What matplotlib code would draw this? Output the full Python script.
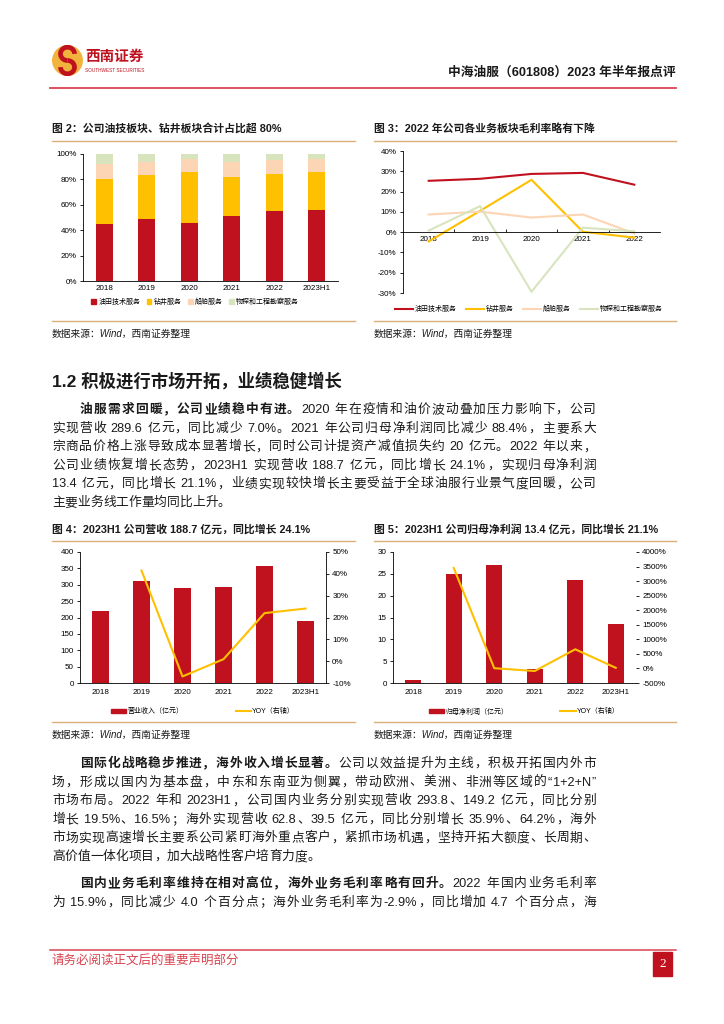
import re

import matplotlib
matplotlib.use('Agg')
import matplotlib.pyplot as plt
import numpy as np
from matplotlib.lines import Line2D
from matplotlib.patches import Arc, Circle, Patch, Rectangle
from matplotlib.ticker import FuncFormatter

# ---- data ----
years = ['2018', '2019', '2020', '2021', '2022', '2023H1']
seg_labels = ['油田技术服务', '钻井服务', '船舶服务', '物探和工程勘察服务']
seg_oilfield = [45.0, 48.5, 46.0, 51.0, 55.0, 56.0]
seg_drilling = [35.5, 35.0, 40.0, 31.0, 29.5, 29.5]
seg_vessel = [12.0, 10.0, 10.0, 11.5, 10.5, 10.5]
seg_geo = [7.5, 6.5, 4.0, 6.5, 5.0, 4.0]

gm_years = ['2018', '2019', '2020', '2021', '2022']
gm_oilfield = [25.3, 26.3, 28.7, 29.2, 23.4]
gm_drilling = [-4.6, 10.5, 25.8, 0.2, -2.7]
gm_vessel = [8.7, 10.1, 7.2, 8.7, -0.6]
gm_geo = [0.8, 12.8, -29.4, 2.2, 0.4]

revenue = [219.7, 310.8, 289.6, 292.2, 356.6, 188.7]
revenue_yoy = [np.nan, 41.5, -7.0, 0.9, 22.0, 24.1]
profit = [0.7, 25.0, 27.1, 3.1, 23.5, 13.4]
profit_yoy = [np.nan, 3450.0, 8.1, -88.4, 658.0, 21.1]

W, H = 724, 1024
RED = '#C0111F'
YEL = '#FFC000'
PEACH = '#FCD5B4'
GREEN = '#D7E4BD'
TAN = '#D9B07A'
TXT = '#1a1a1a'

plt.rcParams['font.family'] = ['Liberation Sans', 'Noto Sans CJK SC']
plt.rcParams['axes.unicode_minus'] = False

fig = plt.figure(figsize=(W / 100, H / 100), dpi=100)
renderer = fig.canvas.get_renderer()


def fx(x):
    return x / W


def fy(y):
    return 1 - y / H


def put(x, y, s, size, **kw):
    kw.setdefault('color', TXT)
    kw.setdefault('va', 'center')
    return fig.text(fx(x), fy(y), s, fontsize=size, **kw)


def hline(x0, x1, y, color, lw):
    fig.add_artist(Line2D([fx(x0), fx(x1)], [fy(y), fy(y)], color=color, lw=lw,
                          transform=fig.transFigure))


def add_ax(l, t, r, b):
    return fig.add_axes([fx(l), fy(b), (r - l) / W, (b - t) / H])


def para_line(y, parts, x0=52, x1=596, size=9.2, justify=True):
    # lay a body line out token by token so it can be justified like the report
    toks = []
    for s, bold in parts:
        for m in re.finditer(r'[A-Za-z0-9.%+\-]+| |.', s):
            toks.append((m.group(), bold))
    arts, widths = [], []
    for s, bold in toks:
        if s == ' ':
            arts.append(None)
            widths.append(size * 100 / 72 * 0.25)
            continue
        t = fig.text(0, fy(y), s, fontsize=size, va='center', ha='left', color=TXT,
                     fontweight='bold' if bold else 'light')
        arts.append(t)
        widths.append(t.get_window_extent(renderer).width)
    gap = (x1 - x0 - sum(widths)) / (len(toks) - 1) if justify else 0
    x = x0
    for t, w in zip(arts, widths):
        if t is not None:
            t.set_x(fx(x))
        x += w + gap


def pct(v, pos):
    return '%d%%' % v


def style_ax(ax, size=5.8):
    for s in ['top', 'right']:
        ax.spines[s].set_visible(False)
    for s in ['left', 'bottom']:
        ax.spines[s].set_linewidth(0.6)
    ax.tick_params(labelsize=size, width=0.6, length=2.5, pad=2)


# ---- page header ----
logo = fig.add_axes([fx(52), fy(76), 31 / W, 31 / H])
logo.set_xlim(-1.05, 1.05)
logo.set_ylim(-1.05, 1.05)
logo.set_aspect('equal')
logo.axis('off')
logo.add_patch(Circle((0, 0), 1, color='#F2B33D'))
logo.add_patch(Arc((0, 0.45), 0.95, 0.9, theta1=0, theta2=270, color=RED, lw=3.4))
logo.add_patch(Arc((0, -0.45), 0.95, 0.9, theta1=180, theta2=450, color=RED, lw=3.4))
put(85, 57, '西南证券', 10.5, color=RED, fontweight='bold')
put(85, 71, 'SOUTHWEST SECURITIES', 3.4, color=RED)
put(676, 73, '中海油服（601808）2023 年半年报点评', 9.2, ha='right', fontweight='bold')
hline(50, 676, 88, '#D9434F', 1.3)

# ---- figure 2 / 3 frames ----
put(52, 129, '图 2：公司油技板块、钻井板块合计占比超 80%', 7.8, fontweight='bold')
put(374, 129, '图 3：2022 年公司各业务板块毛利率略有下降', 7.8, fontweight='bold')
for a, b in [(52, 355), (374, 676)]:
    hline(a, b, 141, TAN, 1.0)
    hline(a, b, 321, TAN, 1.0)
put(52, 334, '数据来源：Wind，西南证券整理', 7.0, style='italic')
put(374, 334, '数据来源：Wind，西南证券整理', 7.0, style='italic')

# figure 2: stacked share
ax = add_ax(83, 154, 338, 281)
x = np.arange(len(years))
bottom = np.zeros(len(years))
for vals, col in zip([seg_oilfield, seg_drilling, seg_vessel, seg_geo], [RED, YEL, PEACH, GREEN]):
    ax.bar(x, vals, 0.4, bottom=bottom, color=col)
    bottom += np.array(vals)
ax.set_ylim(0, 100)
ax.set_yticks(range(0, 101, 20))
ax.yaxis.set_major_formatter(FuncFormatter(pct))
ax.set_xlim(-0.5, len(years) - 0.5)
ax.set_xticks(x)
ax.set_xticklabels(years)
style_ax(ax)
ax.tick_params(axis='x', length=0, pad=3)
ax.legend([Patch(color=c) for c in [RED, YEL, PEACH, GREEN]], seg_labels, loc='center',
          bbox_to_anchor=(0.44, -0.165), ncol=4, frameon=False, fontsize=5.0,
          handlelength=0.7, handleheight=0.7, handletextpad=0.3, columnspacing=0.9)

# figure 3: gross margin lines
ax = add_ax(403, 151, 660, 293)
xg = np.arange(len(gm_years))
for vals, col in zip([gm_oilfield, gm_drilling, gm_vessel, gm_geo], [RED, YEL, PEACH, GREEN]):
    ax.plot(xg, vals, color=col, lw=1.5)
ax.set_ylim(-30, 40)
ax.set_yticks(range(-30, 41, 10))
ax.yaxis.set_major_formatter(FuncFormatter(pct))
ax.set_xlim(-0.5, len(gm_years) - 0.5)
ax.set_xticks(xg)
ax.set_xticklabels(gm_years)
style_ax(ax)
ax.spines['bottom'].set_position(('data', 0))
ax.set_xticks(xg[:-1] + 0.5, minor=True)
ax.tick_params(axis='x', which='major', length=0, pad=3)
ax.tick_params(axis='x', which='minor', length=2.5, width=0.6, direction='in')
ax.legend([Line2D([], [], color=c, lw=1.5) for c in [RED, YEL, PEACH, GREEN]], seg_labels,
          loc='center', bbox_to_anchor=(0.49, -0.115), ncol=4, frameon=False, fontsize=5.0,
          handlelength=2.6, handletextpad=0.3, columnspacing=1.3)

# ---- section 1.2 ----
put(52, 381, '1.2 积极进行市场开拓，业绩稳健增长', 12.5, fontweight='bold')

p1 = [
    [('油服需求回暖，公司业绩稳中有进。', True), ('2020 年在疫情和油价波动叠加压力影响下，公司', False)],
    [('实现营收 289.6 亿元，同比减少 7.0%。2021 年公司归母净利润同比减少 88.4%，主要系大', False)],
    [('宗商品价格上涨导致成本显著增长，同时公司计提资产减值损失约 20 亿元。2022 年以来，', False)],
    [('公司业绩恢复增长态势，2023H1 实现营收 188.7 亿元，同比增长 24.1%，实现归母净利润', False)],
    [('13.4 亿元，同比增长 21.1%，业绩实现较快增长主要受益于全球油服行业景气度回暖，公司', False)],
    [('主要业务线工作量均同比上升。', False)],
]
for i, parts in enumerate(p1):
    para_line(410 + i * 18.6, parts, x0=80 if i == 0 else 52, justify=i < len(p1) - 1)

# ---- figure 4 / 5 frames ----
put(52, 529, '图 4：2023H1 公司营收 188.7 亿元，同比增长 24.1%', 7.8, fontweight='bold')
put(374, 529, '图 5：2023H1 公司归母净利润 13.4 亿元，同比增长 21.1%', 7.8, fontweight='bold')
for a, b in [(52, 355), (374, 676)]:
    hline(a, b, 541, TAN, 1.0)
    hline(a, b, 722, TAN, 1.0)
put(52, 735, '数据来源：Wind，西南证券整理', 7.0, style='italic')
put(374, 735, '数据来源：Wind，西南证券整理', 7.0, style='italic')


def bar_yoy(box, bars, yoy, ylim, ystep, rlim, rstep, legend_labels, lx, right_spine=True):
    ax = add_ax(*box)
    xb = np.arange(len(years))
    ax.bar(xb, bars, 0.4, color=RED)
    ax.set_ylim(*ylim)
    ax.set_yticks(np.arange(ylim[0], ylim[1] + 1, ystep))
    ax.set_xlim(-0.5, len(years) - 0.5)
    ax.set_xticks(xb)
    ax.set_xticklabels(years)
    style_ax(ax)
    ax.tick_params(axis='x', length=0, pad=4)
    ax2 = ax.twinx()
    ax2.plot(xb, yoy, color=YEL, lw=1.5)
    ax2.set_ylim(*rlim)
    ax2.set_yticks(np.arange(rlim[0], rlim[1] + 1, rstep))
    ax2.yaxis.set_major_formatter(FuncFormatter(pct))
    for s in ['top', 'left', 'bottom']:
        ax2.spines[s].set_visible(False)
    ax2.spines['right'].set_linewidth(0.6)
    ax2.spines['right'].set_visible(right_spine)
    ax2.tick_params(labelsize=5.8, width=0.6, length=2.5, pad=2)
    ax2.legend([Patch(color=RED), Line2D([], [], color=YEL, lw=1.5)], legend_labels,
               loc='center', bbox_to_anchor=(lx, -0.22), ncol=2, frameon=False, fontsize=5.0,
               handlelength=2.2, handleheight=0.45, handletextpad=0.2, columnspacing=7.5)


bar_yoy((80, 552, 326, 683), revenue, revenue_yoy, (0, 400), 50, (-10, 50), 10,
        ['营业收入（亿元）', 'YOY（右轴）'], 0.5)
bar_yoy((393, 552, 636, 683), profit, profit_yoy, (0, 30), 5, (-500, 4000), 500,
        ['归母净利润（亿元）', 'YOY（右轴）'], 0.54, right_spine=False)

# ---- lower text ----
p2 = [
    [('国际化战略稳步推进，海外收入增长显著。', True), ('公司以效益提升为主线，积极开拓国内外市', False)],
    [('场，形成以国内为基本盘，中东和东南亚为侧翼，带动欧洲、美洲、非洲等区域的“1+2+N”', False)],
    [('市场布局。2022 年和 2023H1，公司国内业务分别实现营收 293.8、149.2 亿元，同比分别', False)],
    [('增长 19.5%、16.5%；海外实现营收 62.8、39.5 亿元，同比分别增长 35.9%、64.2%，海外', False)],
    [('市场实现高速增长主要系公司紧盯海外重点客户，紧抓市场机遇，坚持开拓大额度、长周期、', False)],
    [('高价值一体化项目，加大战略性客户培育力度。', False)],
]
for i, parts in enumerate(p2):
    para_line(764 + i * 18.6, parts, x0=80 if i == 0 else 52, justify=i < len(p2) - 1)

p3 = [
    [('国内业务毛利率维持在相对高位，海外业务毛利率略有回升。', True), ('2022 年国内业务毛利率', False)],
    [('为 15.9%，同比减少 4.0 个百分点；海外业务毛利率为-2.9%，同比增加 4.7 个百分点，海', False)],
]
for i, parts in enumerate(p3):
    para_line(884 + i * 18.6, parts, x0=80 if i == 0 else 52)

# ---- footer ----
hline(50, 676, 950, '#D9434F', 1.1)
put(52, 961, '请务必阅读正文后的重要声明部分', 9.0, color='#D9434F')
fig.add_artist(Rectangle((fx(653), fy(976)), 19 / W, 24 / H, color=RED,
                         transform=fig.transFigure))
put(662.5, 964, '2', 9.5, color='white', ha='center', family='Liberation Serif')

fig.savefig('out.png', dpi=100)
